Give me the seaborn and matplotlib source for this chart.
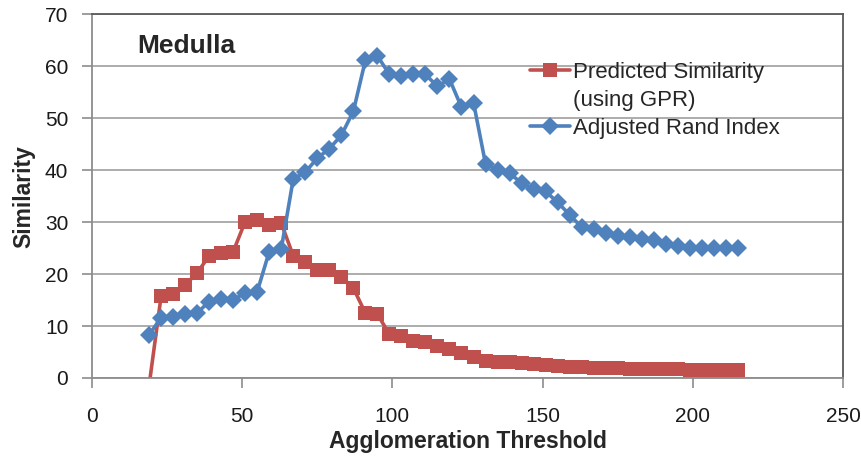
import numpy as np
import pandas as pd
import matplotlib
matplotlib.use("Agg")
import matplotlib.pyplot as plt
from matplotlib.lines import Line2D
import seaborn as sns

threshold = [19, 23, 27, 31, 35, 39, 43, 47, 51, 55, 59, 63, 67, 71, 75, 79, 83, 87,
             91, 95, 99, 103, 107, 111, 115, 119, 123, 127, 131, 135, 139, 143, 147,
             151, 155, 159, 163, 167, 171, 175, 179, 183, 187, 191, 195, 199, 203,
             207, 211, 215]

predicted = [-1.5, 15.7, 16.2, 17.9, 20.2, 23.5, 24.1, 24.3, 30.1, 30.4, 29.5, 29.8,
             23.5, 22.4, 20.8, 20.7, 19.5, 17.3, 12.5, 12.3, 8.4, 8.1, 7.1, 6.9, 6.2,
             5.5, 4.8, 4.0, 3.2, 3.1, 3.0, 2.8, 2.7, 2.5, 2.4, 2.2, 2.1, 2.0, 1.9,
             1.9, 1.8, 1.8, 1.7, 1.7, 1.7, 1.6, 1.6, 1.6, 1.6, 1.6]

ari = [8.3, 11.6, 11.8, 12.3, 12.5, 14.7, 15.2, 15.1, 16.3, 16.6, 24.3, 24.8, 38.3,
       39.6, 42.3, 44.1, 46.7, 51.3, 61.1, 62.0, 58.4, 58.1, 58.5, 58.4, 56.1, 57.5,
       52.1, 53.0, 41.2, 40.1, 39.4, 37.5, 36.3, 35.9, 33.8, 31.4, 29.0, 28.6, 27.9,
       27.4, 27.2, 26.8, 26.6, 25.8, 25.3, 25.1, 25.0, 25.0, 25.0, 25.0]

x_ticks = [0, 50, 100, 150, 200, 250]
y_ticks = [0, 10, 20, 30, 40, 50, 60, 70]

series_names = ["Predicted Similarity", "Adjusted Rand Index"]
legend_lines = ["Predicted Similarity", "(using GPR)", "Adjusted Rand Index"]
colors = ["#C0504D", "#4F81BD"]
markers = ["s", "D"]

df = pd.DataFrame({
    "Agglomeration Threshold": threshold * 2,
    "Similarity": predicted + ari,
    "Series": [series_names[0]] * len(threshold) + [series_names[1]] * len(threshold),
})

sns.set_style("white")
plt.rcParams["font.family"] = ["Liberation Sans", "DejaVu Sans"]

fig = plt.figure(figsize=(8.62, 4.57), dpi=100)
ax = fig.add_axes([0.1067, 0.1729, 0.8713, 0.7961])

sns.lineplot(data=df, x="Agglomeration Threshold", y="Similarity", hue="Series",
             style="Series", palette=colors, markers=markers, dashes=False,
             linewidth=2.6, markersize=9, markeredgewidth=0, ax=ax, legend=False)
lines = ax.get_lines()[:2]
for line, ms in zip(lines, [10.5, 9.0]):
    line.set_markersize(ms)
    line.set_clip_on(True)

ax.set_xlim(0, 250)
ax.set_ylim(0, 70)
ax.set_xticks(x_ticks)
ax.set_yticks(y_ticks)
ax.grid(axis="y", color="#A6A6A6", linewidth=1.3)
ax.set_axisbelow(True)
for name, s in ax.spines.items():
    s.set_linewidth(1.3)
    s.set_color("#8C8C8C" if name in ("left", "bottom") else "#595959")
ax.tick_params(axis="both", which="both", direction="out", length=7, width=1.2,
               color="#8C8C8C", labelsize=15, labelcolor="#1A1A1A")
ax.tick_params(axis="x", pad=14, bottom=True, top=False)
ax.tick_params(axis="y", pad=10, left=True, right=False)

ax.set_xlabel("Agglomeration Threshold", fontsize=16.5, fontweight="bold", labelpad=3)
ax.set_ylabel("Similarity", fontsize=16.5, fontweight="bold", labelpad=7)

ax.text(0.06, 0.912, "Medulla", transform=ax.transAxes, fontsize=19,
        fontweight="bold", va="center", ha="left")

blank = Line2D([], [], linestyle="none", marker=None)
handles = [lines[0], blank, lines[1]]
leg = ax.legend(handles, legend_lines, loc="upper left",
                bbox_to_anchor=(0.583, 0.868), frameon=False,
                fontsize=16, handlelength=1.8, handletextpad=0.15,
                labelspacing=0.3, numpoints=1, borderaxespad=0, borderpad=0)

fig.savefig("out.png", dpi=100)
